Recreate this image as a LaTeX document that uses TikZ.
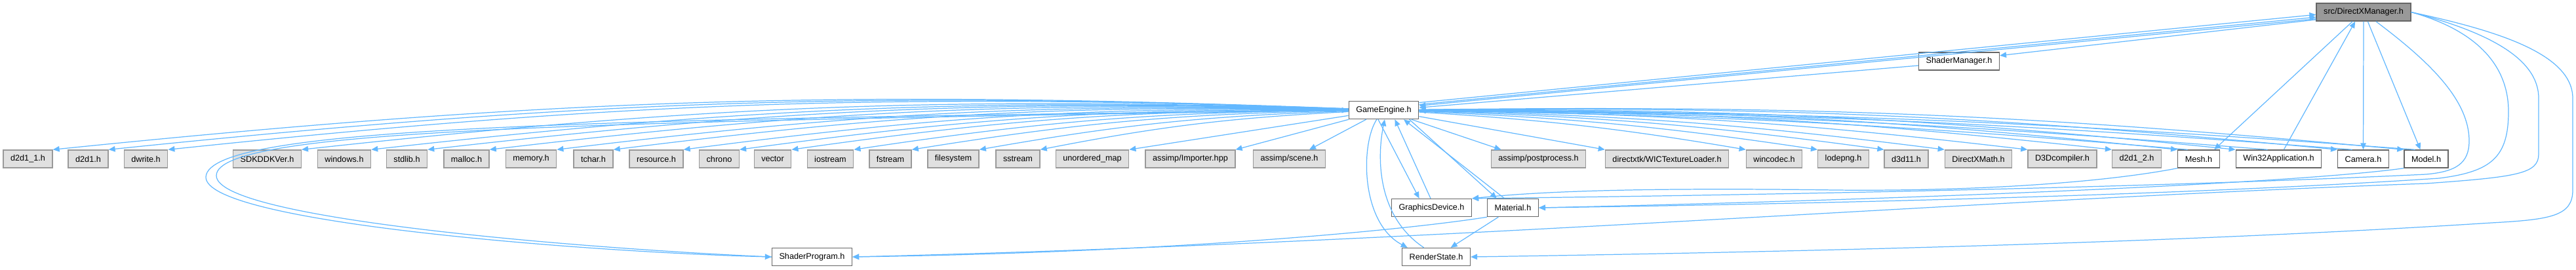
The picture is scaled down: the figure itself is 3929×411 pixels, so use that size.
\documentclass[tikz,border=0pt]{standalone}
\usepackage{fontspec}
\setmainfont{Liberation Sans}
\usetikzlibrary{arrows.meta,positioning}
\definecolor{edgeblue}{HTML}{63B8FF}
\definecolor{extfill}{HTML}{E0E0E0}
\definecolor{extdraw}{HTML}{999999}
\definecolor{srcfill}{HTML}{999999}
\definecolor{boxdraw}{HTML}{666666}

\begin{document}
\begin{tikzpicture}[x=0.01cm, y=0.01cm,
      file/.style={draw=boxdraw, fill=white, line width=0.4pt, minimum height=0.27cm, inner xsep=0.11cm, inner ysep=0pt, font=\fontsize{3.6}{4.3}\selectfont},
      ext/.style={file, draw=extdraw, fill=extfill},
      topfile/.style={file, fill=srcfill},
      inc/.style={draw=edgeblue, line width=0.35pt, -{Triangle[length=0.1cm, width=0.085cm]}}
    ]
    \useasboundingbox (0,0) rectangle (3929,-411);

    % the file itself and the project headers
    \node[topfile] (dxmgr)    at (3605,-18.5)   {src/DirectXManager.h};
    \node[file]    (shmgr)    at (2988,-93.5)   {ShaderManager.h};
    \node[file]    (engine)   at (2110.5,-168)  {GameEngine.h};
    \node[file]    (gfxdev)   at (2183.5,-317)  {GraphicsDevice.h};
    \node[file]    (material) at (2307.5,-317)  {Material.h};
    \node[file]    (shprog)   at (1238.5,-392)  {ShaderProgram.h};
    \node[file]    (rstate)   at (2190.5,-392)  {RenderState.h};

    % row of included headers
    \node[ext]  (d2d1one)    at (42.5,-242.5)   {d2d1\_1.h};
    \node[ext]  (d2d1)       at (134.5,-242.5)  {d2d1.h};
    \node[ext]  (dwrite)     at (222.5,-242.5)  {dwrite.h};
    \node[ext]  (sdkver)     at (407.5,-242.5)  {SDKDDKVer.h};
    \node[ext]  (windows)    at (525,-242.5)    {windows.h};
    \node[ext]  (stdlib)     at (620.5,-242.5)  {stdlib.h};
    \node[ext]  (malloc)     at (711.5,-242.5)  {malloc.h};
    \node[ext]  (memory)     at (810,-242.5)    {memory.h};
    \node[ext]  (tchar)      at (905,-242.5)    {tchar.h};
    \node[ext]  (resource)   at (1001,-242.5)   {resource.h};
    \node[ext]  (chrono)     at (1097,-242.5)   {chrono};
    \node[ext]  (vector)     at (1178.5,-242.5) {vector};
    \node[ext]  (iostream)   at (1266.5,-242.5) {iostream};
    \node[ext]  (fstream)    at (1358,-242.5)   {fstream};
    \node[ext]  (filesystem) at (1454,-242.5)   {filesystem};
    \node[ext]  (sstream)    at (1552.5,-242.5) {sstream};
    \node[ext]  (umap)       at (1666,-242.5)   {unordered\_map};
    \node[ext]  (importer)   at (1815.5,-242.5) {assimp/Importer.hpp};
    \node[ext]  (scene)      at (1966.5,-242.5) {assimp/scene.h};
    \node[ext]  (postproc)   at (2346.5,-242.5) {assimp/postprocess.h};
    \node[ext]  (wictex)     at (2542.5,-242.5) {directxtk/WICTextureLoader.h};
    \node[ext]  (wincodec)   at (2706,-242.5)   {wincodec.h};
    \node[ext]  (lodepng)    at (2811.5,-242.5) {lodepng.h};
    \node[ext]  (dxd)        at (2907.5,-242.5) {d3d11.h};
    \node[ext]  (dxmath)     at (3017.5,-242.5) {DirectXMath.h};
    \node[ext]  (dcompiler)  at (3145.5,-242.5) {D3Dcompiler.h};
    \node[ext]  (d2d1two)    at (3259,-242.5)   {d2d1\_2.h};
    \node[file] (mesh)       at (3353.5,-242.5) {Mesh.h};
    \node[file] (winapp)     at (3475.5,-242.5) {Win32Application.h};
    \node[file] (camera)     at (3604.5,-242.5) {Camera.h};
    \node[file] (model)      at (3700.5,-242.5) {Model.h};

    % top of the graph
    \draw[inc] (dxmgr.189) -- (shmgr.8);
    \draw[inc] (shmgr.186) -- (engine.4);
    \draw[inc] (engine.12) -- (dxmgr.183);
    \draw[inc] (engine.9) -- (dxmgr.186);
    \draw[inc] (dxmgr.188) -- (engine.7);
    \draw[inc] (dxmgr.220) -- (mesh.31);
    \draw[inc] (winapp.61) -- (dxmgr.228);
    \draw[inc] (dxmgr.south) -- (camera.north);
    \draw[inc] (dxmgr.294) -- (model.122);

    % GameEngine.h includes
    \foreach \h in {d2d1one,d2d1,dwrite,sdkver,windows,stdlib,malloc,memory,tchar,resource,chrono,vector,iostream,fstream,filesystem,sstream}
      \draw[inc] (engine) to[bend right=4] (\h.north east);
    \draw[inc] (engine) -- (umap.north east);
    \draw[inc] (engine) -- (importer.north east);
    \draw[inc] (engine) -- (scene.25);
    \draw[inc] (engine) -- (postproc.166);
    \draw[inc] (engine) -- (wictex.north west);
    \foreach \h in {wincodec,lodepng,dxd,dxmath,dcompiler,d2d1two,mesh,winapp,camera,model}
      \draw[inc] (engine) to[bend left=3] (\h.north west);
    \foreach \h in {mesh,winapp,camera,model}
      \draw[inc] (\h.140) to[bend right=2] (engine);

    % GameEngine.h <-> lower headers
    \draw[inc] (engine.239) -- (gfxdev.143);
    \draw[inc] (gfxdev.96) -- (engine.320);
    \draw[inc] (engine.340) -- (material.150);
    \draw[inc] (material.132) -- (engine.335);
    \draw[inc] (engine.233) .. controls (2075,-220) and (2075,-340) .. (rstate.162);
    \draw[inc] (rstate.143) .. controls (2100,-330) and (2100,-240) .. (engine.276);
    \draw[inc] (material) -- (rstate);
    \draw[inc] (material.south west) .. controls (2150,-350) and (1800,-385) .. (shprog.east);
    \draw[inc] (engine.west) .. controls (900,-182) and (318,-192) .. (314,-270) .. controls (312,-340) and (900,-385) .. (shprog.west);
    \draw[inc] (shprog.west) .. controls (900,-380) and (330,-335) .. (330,-268) .. controls (330,-196) and (900,-186) .. (engine.west);

    % long way round on the right
    \draw[inc] (mesh.south west) .. controls (3200,-280) and (3000,-292) .. (2800,-290) .. controls (2500,-286) and (2350,-292) .. (gfxdev.north east);
    \draw[inc] (model.south west) .. controls (3500,-280) and (2900,-305) .. (material.east);
    \draw[inc] (dxmgr.323) .. controls (3700,-90) and (3766,-150) .. (3766,-215) .. controls (3766,-250) and (3745,-262) .. (3700,-266) .. controls (3200,-290) and (2500,-300) .. (gfxdev.north east);
    \draw[inc] (dxmgr.east) .. controls (3790,-50) and (3826,-110) .. (3826,-170) .. controls (3826,-240) and (3800,-262) .. (3720,-272) .. controls (3300,-300) and (2700,-312) .. (material.east);
    \draw[inc] (dxmgr.east) .. controls (3820,-55) and (3872,-100) .. (3872,-150) -- (3872,-235) .. controls (3872,-265) and (3840,-270) .. (3700,-280) .. controls (3000,-305) and (2200,-370) .. (shprog.east);
    \draw[inc] (dxmgr.east) .. controls (3800,-45) and (3924,-80) .. (3924,-150) -- (3924,-290) .. controls (3924,-330) and (3890,-335) .. (3800,-340) .. controls (3300,-372) and (2700,-385) .. (rstate.east);
  \end{tikzpicture}
\end{document}
